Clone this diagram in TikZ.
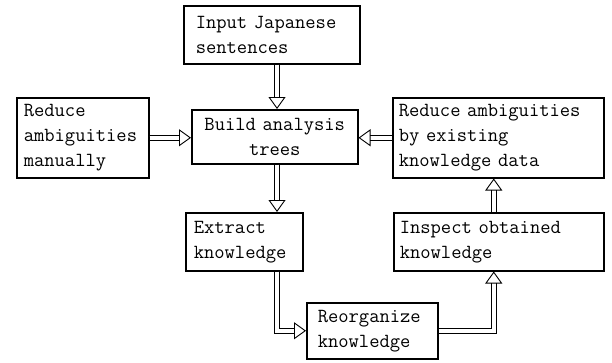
\documentclass[tikz,border=0pt]{standalone}
\usepackage{tikz}
\usetikzlibrary{arrows.meta, positioning, calc}

\begin{document}
\begin{tikzpicture}[x=1pt, y=-1pt,
  box/.style={draw, line width=1.5pt, anchor=north west, align=left,
    font=\ttfamily\fontsize{20}{25}\selectfont},
  dbl/.style={double, double distance=4.5pt, line width=0.9pt,
    -{Triangle[open, length=12pt, width=17pt]}}
]
  \useasboundingbox (0,0) rectangle (612,362);

  % Boxes
  \node[box, inner xsep=12pt, text width=152pt, minimum height=58pt] (inp)
    at (183,5) {Input Japanese\\sentences};
  \node[box, inner xsep=6pt, text width=154pt, minimum height=54pt,
    align=center] (bld) at (191,109) {Build analysis\\trees};
  \node[box, inner xsep=7pt, text width=118pt, minimum height=80pt] (man)
    at (16,97) {Reduce\\ambiguities\\manually};
  \node[box, inner xsep=6pt, text width=199pt, minimum height=80pt] (exi)
    at (392,97) {Reduce ambiguities\\by existing\\knowledge data};
  \node[box, inner xsep=8pt, text width=101pt, minimum height=58pt] (ext)
    at (185,212) {Extract\\knowledge};
  \node[box, inner xsep=6pt, text width=198pt, minimum height=58pt] (ins)
    at (393,212) {Inspect obtained\\knowledge};
  \node[box, inner xsep=11pt, text width=109pt, minimum height=56pt] (reo)
    at (306,302) {Reorganize\\knowledge};

  % Arrows
  \coordinate (col) at (277,0);
  \draw[dbl] (inp.south -| col) -- (bld.north -| col);
  \draw[dbl] (bld.south -| col) -- (ext.north -| col);
  \draw[dbl] (man.east) -- (bld.west |- man.east);
  \draw[dbl] (exi.west) -- (bld.east |- exi.west);
  \draw[dbl] (ext.south -| col) |- (reo.west);
  \draw[dbl] (reo.east) -| ([xshift=-5pt]ins.south);
  \draw[dbl] ([xshift=-5pt]ins.north) -- ([xshift=-5pt]exi.south -| ins.north);
\end{tikzpicture}
\end{document}
